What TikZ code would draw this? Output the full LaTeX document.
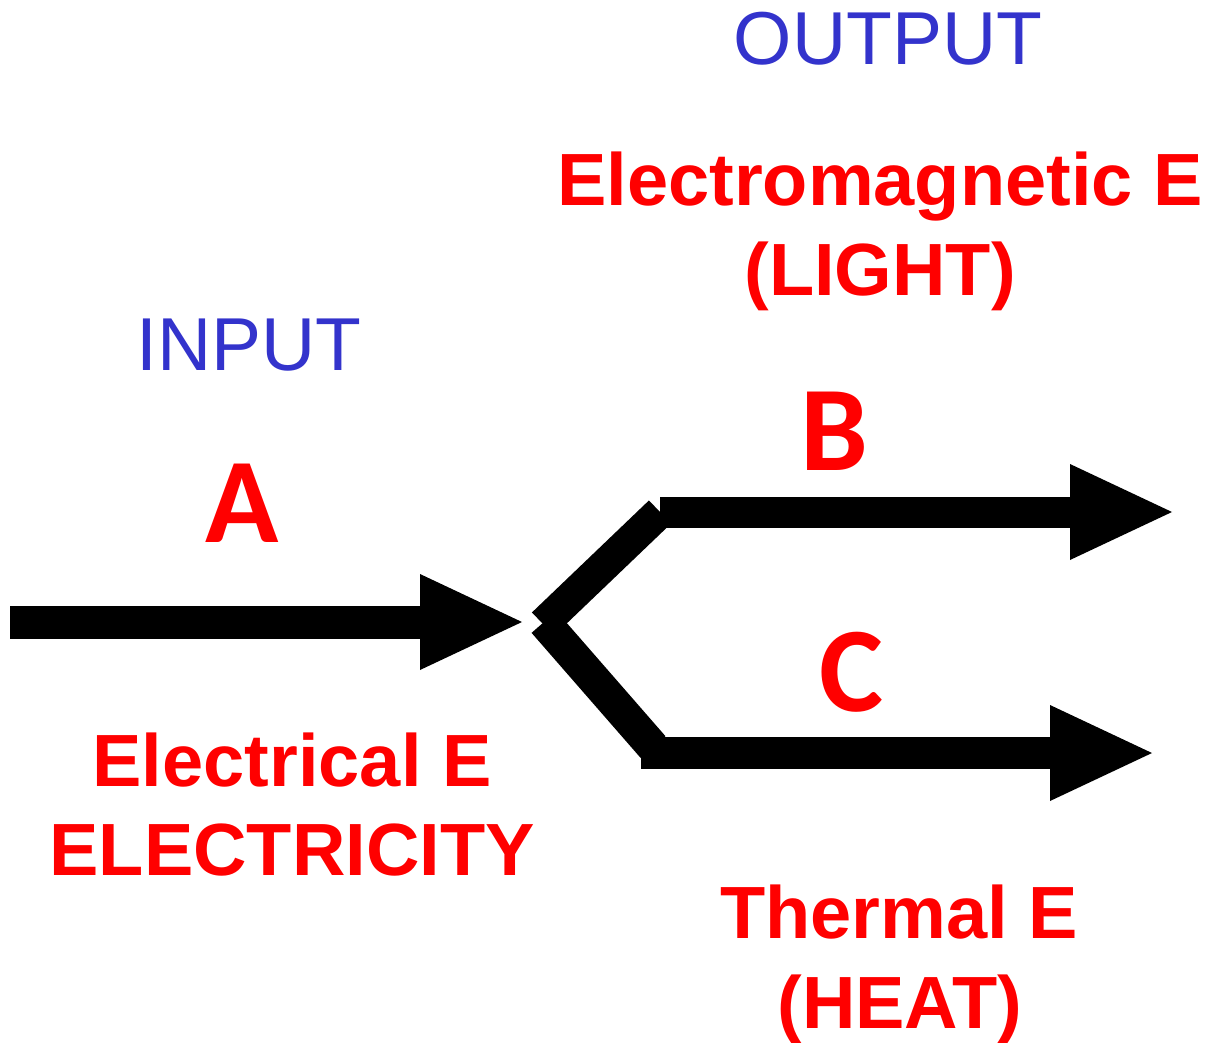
\documentclass[tikz,border=0pt]{standalone}
\usepackage{fontspec}
\usetikzlibrary{calc}
\setmainfont{Liberation Sans}
\newfontfamily\calibfont{Carlito}
\definecolor{lblue}{RGB}{51,51,204}
\definecolor{lred}{RGB}{255,0,0}
\begin{document}
\begin{tikzpicture}[x=1pt,y=-1pt,
  shaft/.style={draw=black, line width=#1, line cap=butt},
  head/.style={fill=black, draw=none},
  redlbl/.style={text=lred, font=\bfseries\fontsize{74}{89}\selectfont, inner sep=0pt, anchor=base},
  bluelbl/.style={text=lblue, font=\fontsize{75}{90}\selectfont, inner sep=0pt, anchor=base},
  letterlbl/.style={text=lred, font=\calibfont\bfseries\fontsize{121}{130}\selectfont, inner sep=0pt, anchor=base}]
\useasboundingbox (0,0) rectangle (1209,1043);
\fill[white] (0,0) rectangle (1209,1043);

% named points
\coordinate (inStart) at (10,622);
\coordinate (inBase) at (420,622);
\coordinate (inTip) at (522,622);
\coordinate (upA) at (543,624);
\coordinate (upB) at (660,512);
\coordinate (bBase) at (1070,512);
\coordinate (bTip) at (1172,512);
\coordinate (loA) at (544,622);
\coordinate (loB) at (653,747);
\coordinate (cStart) at (641,753);
\coordinate (cBase) at (1050,753);
\coordinate (cTip) at (1152,753);

% input arrow
\draw[shaft=33pt] (inStart) -- (inBase);
\fill[head] ($(inBase)+(0,-48)$) -- (inTip) -- ($(inBase)+(0,48)$) -- cycle;

% upper branch (B)
\draw[shaft=32pt] (upA) -- (upB);
\draw[shaft=31pt] (upB) -- (bBase);
\fill[head] ($(bBase)+(0,-48)$) -- (bTip) -- ($(bBase)+(0,48)$) -- cycle;

% lower branch (C)
\draw[shaft=33pt] (loA) -- (loB);
\draw[shaft=32pt] (cStart) -- (cBase);
\fill[head] ($(cBase)+(0,-48)$) -- (cTip) -- ($(cBase)+(0,48)$) -- cycle;

% labels
\node[bluelbl] (output) at (888,65) {OUTPUT};
\node[bluelbl] (input) at (249,370) {INPUT};
\node[redlbl] (em1) at (880,205) {Electromagnetic E};
\node[redlbl] (em2) at (880,295) {(LIGHT)};
\node[redlbl] (el1) at (292,786) {Electrical E};
\node[redlbl] (el2) at (292,875) {ELECTRICITY};
\node[redlbl] (th1) at (899,938) {Thermal E};
\node[redlbl] (th2) at (900,1028) {(HEAT)};
\node[letterlbl] (la) at (242,542) {A};
\node[letterlbl] (lb) at (834,470) {B};
\node[letterlbl] (lc) at (852,711) {C};
\end{tikzpicture}
\end{document}
